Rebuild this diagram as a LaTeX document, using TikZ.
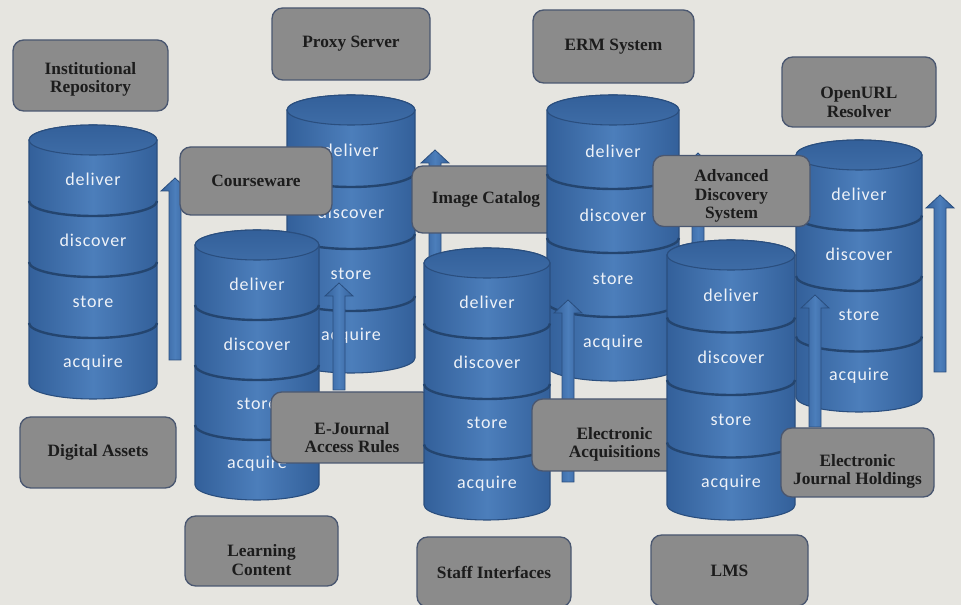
\documentclass[tikz,border=0pt]{standalone}
\usepackage{fontspec}
\newfontfamily\stackfont[LetterSpace=5]{Carlito}
\newfontfamily\boxfont{Liberation Serif}

\definecolor{pagebg}{HTML}{E6E5E0}
\definecolor{stackdark}{HTML}{33609A}
\definecolor{stacklight}{HTML}{4C7EBB}
\definecolor{stacktopfill}{HTML}{3E6CA6}
\definecolor{stackedge}{HTML}{2A4E7E}
\definecolor{seamblue}{HTML}{24456F}
\definecolor{stacktext}{HTML}{EEF2F8}
\definecolor{boxgray}{HTML}{8B8B8B}
\definecolor{boxedge}{HTML}{4A5770}
\definecolor{boxtext}{HTML}{1C1C1C}

% lowers a box's text: a strut of height #1 on the first line
\newcommand{\dropby}[1]{\rule{0pt}{#1}}

\tikzset{
	infobox/.style={draw=boxedge, fill=boxgray, rounded corners=8pt, line width=1pt, align=center, text=boxtext, inner sep=2pt, font=\boxfont\bfseries\fontsize{13}{13.8}\selectfont},
	boxsize/.style 2 args={minimum width=#1*0.75pt, minimum height=#2*0.75pt},
	stacklabel/.style={text=stacktext, inner sep=0pt, font=\stackfont\fontsize{13.5}{15}\selectfont},
	stackbody/.style={draw=stackedge, line width=0.8pt, left color=stackdark, right color=stackdark, middle color=stacklight},
	stacktop/.style={draw=stackedge, line width=0.8pt, top color=stackdark, bottom color=stacktopfill},
	stackseam/.style={draw=seamblue, line width=1.8pt},
	arrowbody/.style={draw=stackedge, line width=0.6pt, left color=stackdark, right color=stackdark, middle color=stacklight}}

% #1 name, #2 centre x, #3 centre y of top, #4 x radius, #5 segment height
\newcommand{\datastack}[5]{%
	\shade[stackbody] ({#2-#4},#3) -- ({#2-#4},{#3+4*#5}) arc[start angle=180, end angle=0, x radius=#4, y radius=15] -- ({#2+#4},#3) arc[start angle=360, end angle=180, x radius=#4, y radius=15] -- cycle;
	\foreach \k in {1,2,3}
		\draw[stackseam] ({#2-#4},{#3+\k*#5}) arc[start angle=180, end angle=0, x radius=#4, y radius=15];
	\shade[stacktop] (#2,#3) ellipse [x radius=#4, y radius=15];
	\foreach \seglabel [count=\k from 0] in {deliver,discover,store,acquire}
		\node[stacklabel] (#1-\seglabel) at (#2,{#3+(\k+0.5)*#5+9}) {\seglabel};
}
% #1 centre x, #2 foot y, #3 tip y
\newcommand{\stackarrow}[3]{%
	\shade[arrowbody] ({#1-6},#2) -- ({#1-6},{#3+13}) -- ({#1-14},{#3+13}) -- (#1,#3) -- ({#1+14},{#3+13}) -- ({#1+6},{#3+13}) -- ({#1+6},#2) -- cycle;
}

\begin{document}
\begin{tikzpicture}[x=0.75pt,y=0.75pt,yscale=-1,xscale=1]
	\useasboundingbox (0,0) rectangle (961,605);
	\fill[pagebg] (0,0) rectangle (961,605);

	%Shape: Stack, back row
	\datastack{repo}{93}{140}{64}{61}
	\stackarrow{175}{360}{178}
	\datastack{proxy}{351}{110}{64}{62}
	\stackarrow{435}{280}{150}
	% Text Node
	\node[infobox, boxsize={148}{67}] (imgcat) at (486,199.5) {Image Catalog};
	\datastack{erm}{613}{110}{66}{64}
	\stackarrow{698}{270}{153}
	\datastack{openurl}{859}{155}{63}{60.5}
	\stackarrow{940}{372}{195}

	% Text Node
	\node[infobox, boxsize={155}{71}] (instrepo) at (90.5,75.5) {\dropby{15pt}Institutional\\Repository};
	\node[infobox, boxsize={158}{72}] (proxysrv) at (351,44) {Proxy Server};
	\node[infobox, boxsize={161}{73}] (ermsys) at (613.5,46.5) {ERM System};
	\node[infobox, boxsize={154}{70}] (resolver) at (859,92) {\dropby{24pt}OpenURL\\Resolver};
	\node[infobox, boxsize={152}{68}] (courseware) at (256,181) {Courseware};
	\node[infobox, boxsize={157}{71}] (discsys) at (731.5,191) {\dropby{16.5pt}Advanced\\Discovery\\System};

	%Shape: Stack, front row
	\datastack{learn}{257}{245}{62}{60}
	\stackarrow{339}{390}{283}
	\node[infobox, boxsize={162}{71}] (ejrules) at (352,427.5) {\dropby{24pt}E-Journal\\Access Rules};
	\datastack{staff}{487}{263}{63}{60.5}
	\stackarrow{568}{482}{300}
	\node[infobox, boxsize={165}{72}] (eacq) at (614.5,435) {\dropby{23pt}Electronic\\Acquisitions};
	\datastack{lms}{731}{255}{64}{62.5}
	\stackarrow{815}{427}{295}
	\node[infobox, boxsize={153}{69}] (ejhold) at (857.5,462.5) {\dropby{22.5pt}Electronic\\Journal Holdings};

	% Text Node
	\node[infobox, boxsize={156}{71}] (digassets) at (98,452.5) {Digital Assets};
	\node[infobox, boxsize={153}{70}] (learncont) at (261.5,551) {\dropby{22.5pt}Learning\\Content};
	\node[infobox, boxsize={154}{70}] (staffint) at (494,572) {Staff Interfaces};
	\node[infobox, boxsize={157}{71}] (lmsbox) at (729.5,570.5) {LMS};
\end{tikzpicture}
\end{document}
